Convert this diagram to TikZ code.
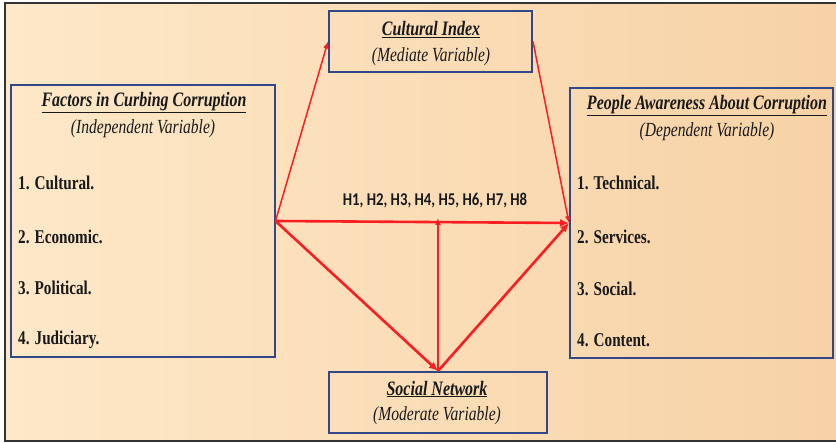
\documentclass[tikz,border=0pt]{standalone}
\usepackage{fontspec}
\usepackage{graphicx}
\setmainfont{Liberation Serif}
\newfontfamily\hfont{Carlito}
\usetikzlibrary{arrows.meta}
\definecolor{boxblue}{RGB}{48,72,135}
\definecolor{linered}{RGB}{250,30,35}
\definecolor{bgleft}{RGB}{254,232,200}
\definecolor{bgmid}{RGB}{254,236,208}
\definecolor{bgright}{RGB}{247,210,166}
\definecolor{txt}{RGB}{25,25,25}
\newcommand\condtxt[1]{\scalebox{0.78}[1]{#1}}
\tikzset{
  varbox/.style={draw=boxblue, line width=2pt, minimum width=#1, inner sep=0pt},
  ttl/.style={font=\fontsize{20.5}{22}\selectfont\bfseries\itshape, text=txt, inner sep=0pt},
  sub/.style={font=\fontsize{20}{22}\selectfont\itshape, text=txt, inner sep=0pt},
  item/.style={font=\fontsize{19.5}{22}\selectfont\bfseries, text=txt, anchor=west, inner sep=0pt},
  thin/.style={draw=linered, line width=1.5pt, -{Latex[length=7pt,width=6pt]}},
  thick/.style={draw=linered, line width=2.6pt, -{Latex[length=9pt,width=8pt]}},
}
\begin{document}
\begin{tikzpicture}[x=1pt,y=-1pt]
\useasboundingbox (0,0) rectangle (836,443);
\fill[white] (0,0) rectangle (836,443);
\shade[left color=bgleft, middle color=bgmid, right color=bgright] (5,3) rectangle (836,441);
\draw[black!80, line width=2pt] (836,3) -- (5,3) -- (5,441) -- (836,441);

% boxes
\node[varbox=264pt, minimum height=272pt] (left) at (142.5,221) {};
\node[varbox=263pt, minimum height=270pt] (right) at (701.5,223) {};
\node[varbox=203pt, minimum height=61pt] (cult) at (430.5,41.5) {};
\node[varbox=218pt, minimum height=61pt] (soc) at (438,402.5) {};

% left box text
\node[ttl] (lt) at (144,103) {\condtxt{\underline{Factors in Curbing Corruption}}};
\node[sub] (ls) at (143,129) {\condtxt{(Independent Variable)}};
\node[item] (l1) at (18,183) {\condtxt{1. Cultural.}};
\node[item] (l2) at (18,237) {\condtxt{2. Economic.}};
\node[item] (l3) at (18,288) {\condtxt{3. Political.}};
\node[item] (l4) at (18,340) {\condtxt{4. Judiciary.}};

% right box text
\node[ttl] (rt) at (707,106) {\condtxt{\underline{People Awareness About Corruption}}};
\node[sub] (rs) at (707,132) {\condtxt{(Dependent Variable)}};
\node[item] (r1) at (577,183) {\condtxt{1. Technical.}};
\node[item] (r2) at (577,237) {\condtxt{2. Services.}};
\node[item] (r3) at (577,289) {\condtxt{3. Social.}};
\node[item] (r4) at (577,340) {\condtxt{4. Content.}};

% cultural index text
\node[ttl] (ct) at (431,30) {\condtxt{\underline{Cultural Index}}};
\node[sub] (cs) at (431,57) {\condtxt{(Mediate Variable)}};

% social network text
\node[ttl] (st) at (437,389) {\condtxt{\underline{Social Network}}};
\node[sub] (ss) at (437,416) {\condtxt{(Moderate Variable)}};

% hypotheses label
\node[font=\fontsize{18}{20}\selectfont\hfont\bfseries, text=txt, inner sep=0pt] (hyp) at (435,201) {\scalebox{0.82}[1]{H1, H2, H3, H4, H5, H6, H7, H8}};

% connectors
\coordinate (lj) at (left.east);
\coordinate (rj) at (right.west);
\coordinate (hj) at (soc.north |- lj);
\draw[thin] (lj) -- (cult.west);
\draw[thin] (cult.east) -- (rj);
\draw[thick] (lj) -- (rj);
\draw[thick] (lj) -- (soc.north);
\draw[thick] (soc.north) -- (rj);
\draw[thin] (soc.north) -- ([yshift=3pt]hj);
\end{tikzpicture}
\end{document}
